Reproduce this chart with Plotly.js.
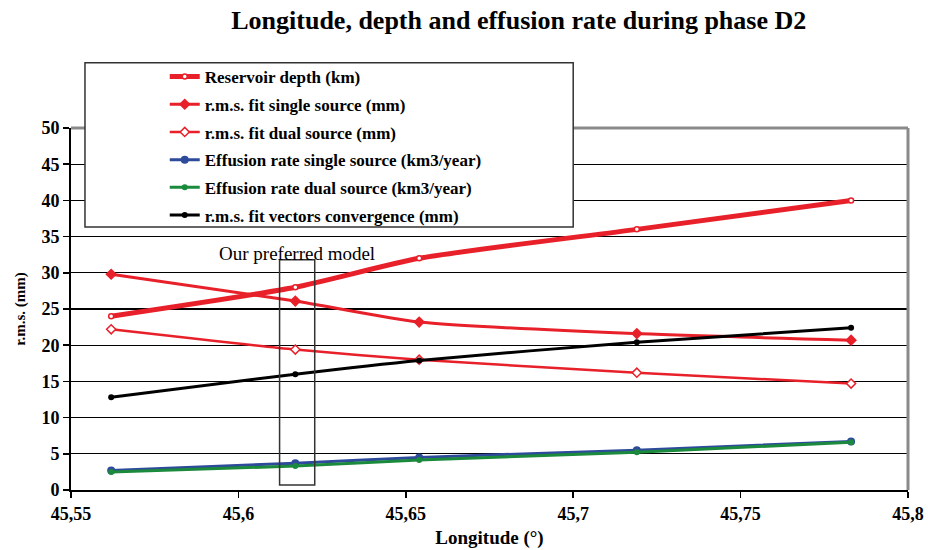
<!DOCTYPE html>
<html>
<head>
<meta charset="utf-8">
<script src="https://cdn.plot.ly/plotly-3.0.1.min.js"></script>
<style>html,body{margin:0;padding:0;background:#fff;}#chart{width:928px;height:550px;}</style>
</head>
<body>
<div id="chart"></div>
<script>
// Data
const longitude = [45.562, 45.617, 45.654, 45.719, 45.783];
const reservoirDepth = [24.0, 28.0, 32.0, 36.0, 40.0];
const rmsSingle = [29.8, 26.1, 23.2, 21.6, 20.7];
const rmsDual = [22.2, 19.4, 18.0, 16.2, 14.7];
const effusionSingle = [2.7, 3.7, 4.5, 5.5, 6.7];
const effusionDual = [2.5, 3.3, 4.15, 5.2, 6.6];
const rmsConvergence = [12.8, 16.0, 17.9, 20.4, 22.4];

const xTickVals = [45.55, 45.6, 45.65, 45.7, 45.75, 45.8];
const xTickText = ["45,55", "45,6", "45,65", "45,7", "45,75", "45,8"];
const yTickVals = [0, 5, 10, 15, 20, 25, 30, 35, 40, 45, 50];
const yTickText = ["0", "5", "10", "15", "20", "25", "30", "35", "40", "45", "50"];

const preferredX = [45.6123, 45.6228];
const preferredY = [0.7, 31.8];

const RED = '#e8202a', BLUE = '#2d4a9b', GREEN = '#1b8a3c', BLACK = '#000000';
const SERIF = 'Liberation Serif, Times New Roman, serif';
const bold = s => '<b>' + s + '</b>';

const traces = [
  {name: 'Reservoir depth (km)', y: reservoirDepth, legendgroup: 'a',
   line: {color: RED, width: 5, shape: 'spline', smoothing: 0.6},
   marker: {symbol: 'circle', size: 5, color: '#ffffff', line: {color: RED, width: 1.5}}},
  {name: 'r.m.s. fit single source (mm)', y: rmsSingle, legendgroup: 'b',
   line: {color: RED, width: 3, shape: 'spline', smoothing: 0.6},
   marker: {symbol: 'diamond', size: 9, color: RED, line: {color: RED, width: 0}}},
  {name: 'r.m.s. fit dual source (mm)', y: rmsDual, legendgroup: 'c',
   line: {color: RED, width: 2.5, shape: 'spline', smoothing: 0.6},
   marker: {symbol: 'diamond', size: 7, color: '#ffffff', line: {color: RED, width: 1.5}}},
  {name: 'Effusion rate single source (km3/year)', y: effusionSingle, legendgroup: 'd',
   line: {color: BLUE, width: 3, shape: 'spline', smoothing: 0.6},
   marker: {symbol: 'circle', size: 8, color: BLUE}},
  {name: 'Effusion rate dual source (km3/year)', y: effusionDual, legendgroup: 'e',
   line: {color: GREEN, width: 3, shape: 'spline', smoothing: 0.6},
   marker: {symbol: 'circle', size: 6, color: GREEN}},
  {name: 'r.m.s. fit vectors convergence (mm)', y: rmsConvergence, legendgroup: 'f',
   line: {color: BLACK, width: 3, shape: 'spline', smoothing: 0.6},
   marker: {symbol: 'circle', size: 6, color: BLACK}}
].map(t => Object.assign({type: 'scatter', mode: 'lines+markers', x: longitude}, t));

const layout = {
  width: 928, height: 550,
  margin: {l: 71, r: 20, t: 128, b: 60},
  paper_bgcolor: '#ffffff', plot_bgcolor: '#ffffff',
  separators: ', ',
  font: {family: SERIF, color: '#000'},
  title: {text: bold('Longitude, depth and effusion rate during phase D2'),
          font: {family: SERIF, size: 26, color: '#000'},
          x: 0.559, xanchor: 'center', y: 0.963, yanchor: 'middle'},
  xaxis: {range: [45.55, 45.8], tickmode: 'array', tickvals: xTickVals, ticktext: xTickText.map(bold),
          showgrid: false, zeroline: false, showline: true, linecolor: '#000', linewidth: 2,
          ticks: 'outside', ticklen: 6, tickcolor: '#000', tickwidth: 1.5,
          tickfont: {family: SERIF, size: 18, color: '#000'},
          title: {text: bold('Longitude (°)'), font: {family: SERIF, size: 19, color: '#000'}, standoff: 8}},
  yaxis: {range: [0, 50], tickmode: 'array', tickvals: yTickVals, ticktext: yTickText.map(bold),
          showgrid: true, gridcolor: '#000', gridwidth: 1.2, zeroline: false,
          showline: true, linecolor: '#000', linewidth: 2,
          ticks: 'outside', ticklen: 6, tickcolor: '#000', tickwidth: 1.5,
          tickfont: {family: SERIF, size: 18, color: '#000'},
          title: {text: bold('r.m.s. (mm)'), font: {family: SERIF, size: 15, color: '#000'}, standoff: 12}},
  showlegend: true,
  legend: {x: 0.112, xanchor: 'left', y: 1.1906, yanchor: 'top',
           bgcolor: 'rgba(0,0,0,0)', borderwidth: 0,
           itemwidth: 30, tracegroupgap: 2.6, traceorder: 'grouped',
           font: {family: SERIF, size: 17, color: '#000', weight: 'bold'}},
  shapes: [
    // legend box
    {type: 'rect', xref: 'paper', yref: 'paper', x0: 0.0167, x1: 0.6, y0: 0.7265, y1: 1.18,
     line: {color: '#333', width: 1.5}, fillcolor: '#ffffff', layer: 'above'},
    // gray frame top and right
    {type: 'line', xref: 'paper', yref: 'paper', x0: 0, x1: 1, y0: 1, y1: 1,
     line: {color: '#8a8a8a', width: 3}, layer: 'below'},
    {type: 'line', xref: 'paper', yref: 'paper', x0: 1, x1: 1, y0: 0, y1: 1,
     line: {color: '#8a8a8a', width: 3}, layer: 'above'},
    // preferred model box
    {type: 'rect', xref: 'x', yref: 'y', x0: preferredX[0], x1: preferredX[1], y0: preferredY[0], y1: preferredY[1],
     line: {color: '#333', width: 1.5}, fillcolor: 'rgba(0,0,0,0)', layer: 'above'}
  ],
  annotations: [
    {text: 'Our preferred model', xref: 'x', yref: 'y', x: (preferredX[0] + preferredX[1]) / 2, y: 32.6,
     showarrow: false, font: {family: SERIF, size: 19, color: '#000'}}
  ]
};

Plotly.newPlot('chart', traces, layout, {displayModeBar: false, staticPlot: true});
</script>
</body>
</html>
